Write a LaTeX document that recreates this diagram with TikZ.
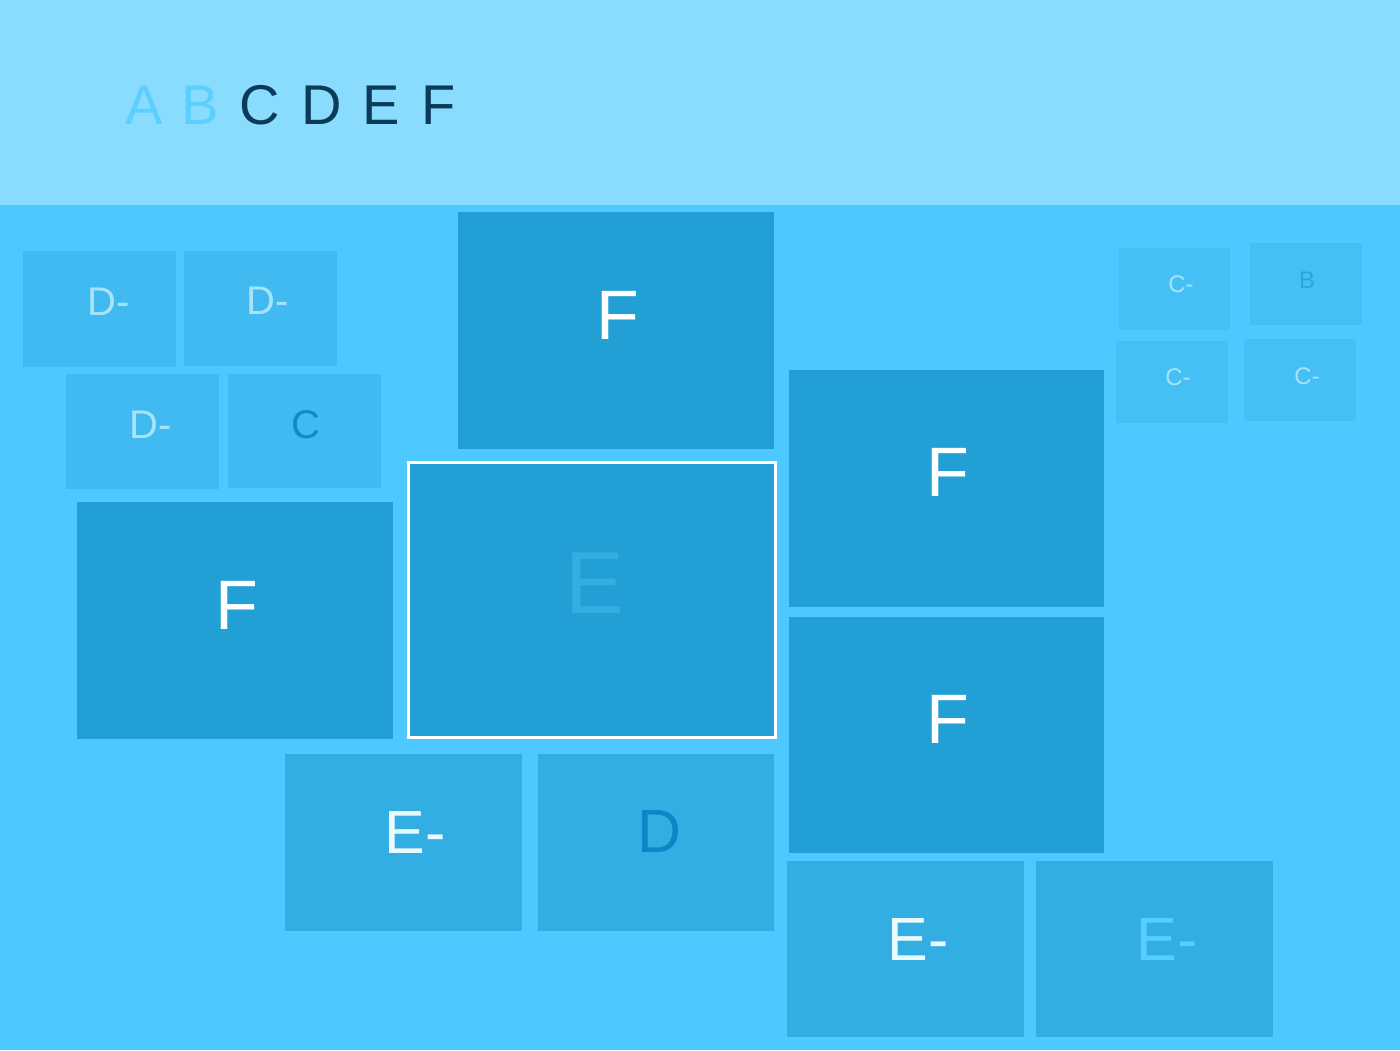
\documentclass[tikz,border=0pt]{standalone}
\usepackage{fontspec}
\setmainfont{Liberation Sans}
\definecolor{hdrbg}{HTML}{8ADCFF}
\definecolor{mainbg}{HTML}{4DC9FF}
\definecolor{hdrlight}{HTML}{5CCFFF}
\definecolor{hdrdark}{HTML}{0B3B58}
\definecolor{fbox}{HTML}{229FD4}
\definecolor{dbox}{HTML}{40BAF0}
\definecolor{sbox}{HTML}{45C0F5}
\definecolor{ebox}{HTML}{33AEE2}
\definecolor{lbllight}{HTML}{A8E3FA}
\definecolor{lbldark}{HTML}{0F8BC8}
\definecolor{lblb}{HTML}{2DA5DC}
\definecolor{lble}{HTML}{33AEE2}
\definecolor{lblwhite}{HTML}{EAF8FF}
\definecolor{lblpale}{HTML}{58CDFF}
\definecolor{lbld}{HTML}{0A88C6}
\begin{document}
\begin{tikzpicture}[x=1pt,y=-1pt,
  tile/.style={rectangle,draw=none,inner sep=0pt,outer sep=0pt,anchor=north west},
  lbl/.style={inner sep=0pt,outer sep=0pt,anchor=center},
  hdr/.style={lbl,font=\fontsize{56}{60}\selectfont},
  big/.style={lbl,font=\fontsize{70}{74}\selectfont,text=white},
  mid/.style={lbl,font=\fontsize{40}{44}\selectfont},
  emid/.style={lbl,font=\fontsize{61}{64}\selectfont},
  small/.style={lbl,font=\fontsize{24}{28}\selectfont}]
\useasboundingbox (0,0) rectangle (1400,1050);
\fill[mainbg] (0,0) rectangle (1400,1050);
\fill[hdrbg] (0,0) rectangle (1400,205);
% header letters
\node[hdr,text=hdrlight] (hA) at (144.5,105) {A};
\node[hdr,text=hdrlight] (hB) at (200,105) {B};
\node[hdr,text=hdrdark] (hC) at (260,105) {C};
\node[hdr,text=hdrdark] (hD) at (321.5,105) {D};
\node[hdr,text=hdrdark] (hE) at (381,105) {E};
\node[hdr,text=hdrdark] (hF) at (439,105) {F};
% left small tiles
\node[tile,fill=dbox,minimum width=153pt,minimum height=116pt] (d1) at (23,251) {};
\node[tile,fill=dbox,minimum width=153pt,minimum height=115pt] (d2) at (184,251) {};
\node[tile,fill=dbox,minimum width=153pt,minimum height=115pt] (d3) at (66,374) {};
\node[tile,fill=dbox,minimum width=153pt,minimum height=114pt] (c1) at (228,374) {};
\node[mid,text=lbllight] (ld1) at (109,302) {D-};
\node[mid,text=lbllight] (ld2) at (268,301) {D-};
\node[mid,text=lbllight] (ld3) at (151,425) {D-};
\node[mid,text=lbldark] (lc1) at (306,425) {C};
% F tiles
\node[tile,fill=fbox,minimum width=316pt,minimum height=237pt] (fL) at (77,502) {};
\node[tile,fill=fbox,minimum width=316pt,minimum height=237pt] (fT) at (458,212) {};
\node[tile,fill=fbox,minimum width=315pt,minimum height=237pt] (fR1) at (789,370) {};
\node[tile,fill=fbox,minimum width=315pt,minimum height=236pt] (fR2) at (789,617) {};
\node[big] (lfL) at (237,605) {F};
\node[big] (lfT) at (618,315) {F};
\node[big] (lfR1) at (948,472) {F};
\node[big] (lfR2) at (948,719) {F};
% selected E tile
\node[tile,fill=fbox,draw=white,line width=3pt,minimum width=367pt,minimum height=275pt] (eC) at (408.5,462.5) {};
\node[lbl,font=\fontsize{88}{92}\selectfont,text=lble] (leC) at (595,583) {E};
% E- and D tiles
\node[tile,fill=ebox,minimum width=237pt,minimum height=177pt] (em1) at (285,754) {};
\node[tile,fill=ebox,minimum width=236pt,minimum height=177pt] (dd) at (538,754) {};
\node[tile,fill=ebox,minimum width=237pt,minimum height=176pt] (em2) at (787,861) {};
\node[tile,fill=ebox,minimum width=237pt,minimum height=176pt] (em3) at (1036,861) {};
\node[emid,text=lblwhite] (lem1) at (415,833) {E-};
\node[emid,text=lbld] (ldd) at (660,832) {D};
\node[emid,text=lblwhite] (lem2) at (918,940) {E-};
\node[emid,text=lblpale] (lem3) at (1167,940) {E-};
% right small tiles
\node[tile,fill=sbox,minimum width=111pt,minimum height=82pt] (cs1) at (1119,248) {};
\node[tile,fill=sbox,minimum width=112pt,minimum height=82pt] (bs) at (1250,243) {};
\node[tile,fill=sbox,minimum width=112pt,minimum height=82pt] (cs2) at (1116,341) {};
\node[tile,fill=sbox,minimum width=112pt,minimum height=82pt] (cs3) at (1244,339) {};
\node[small,text=lbllight] (lcs1) at (1181,284) {C-};
\node[small,text=lblb] (lbs) at (1307,280) {B};
\node[small,text=lbllight] (lcs2) at (1178,377) {C-};
\node[small,text=lbllight] (lcs3) at (1307,376) {C-};
\end{tikzpicture}
\end{document}
